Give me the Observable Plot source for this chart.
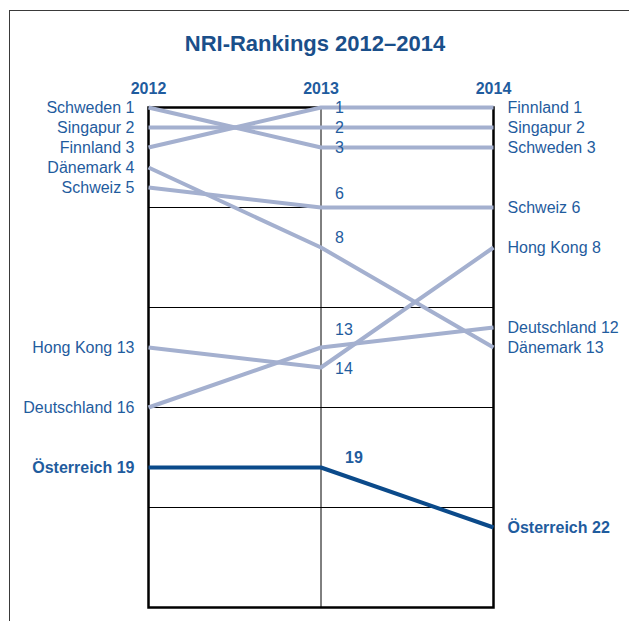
<!DOCTYPE html>
<html>
<head>
<meta charset="utf-8">
<script src="https://cdn.jsdelivr.net/npm/d3@7"></script>
<script src="https://cdn.jsdelivr.net/npm/@observablehq/plot@0.6"></script>
<style>
  html, body { margin: 0; padding: 0; background: #fff; overflow: hidden; }
  #wrap { position: relative; width: 629px; height: 621px; }
  #outer { position: absolute; left: 9px; top: 10px; width: 640px; height: 640px; border: 1.5px solid #3a3a3a; pointer-events: none; }
  svg { font-family: "Liberation Sans", Arial, sans-serif; }
</style>
</head>
<body>
<div id="wrap"><div id="outer"></div></div>
<script>
const title = "NRI-Rankings 2012–2014";
const years = [2012, 2013, 2014];
const countries = ["Schweden", "Singapur", "Finnland", "Dänemark", "Schweiz", "Hong Kong", "Deutschland", "Österreich"];
const rank2012 = [1, 2, 3, 4, 5, 13, 16, 19];
const rank2013 = [3, 2, 1, 8, 6, 14, 13, 19];
const rank2014 = [3, 2, 1, 13, 6, 8, 12, 22];
const gridRanks = [6, 11, 16, 21];
const highlight = "Österreich";

const ranksByYear = {2012: rank2012, 2013: rank2013, 2014: rank2014};
const rows = [];
countries.forEach((c, i) => years.forEach(y => rows.push({country: c, year: y, rank: ranksByYear[y][i]})));

// annotation nudges (px) for the middle-column numbers
const midDy = {"Schweden": 0, "Singapur": 0, "Finnland": 0, "Schweiz": -14, "Dänemark": -10, "Deutschland": -18, "Hong Kong": 1, "Österreich": -10};

const light = "#a4b0cf";
const dark = "#0b4a8a";
const textCol = "#1f5c9e";

const isHi = d => d.country === highlight;
const notHi = d => !isHi(d);
const r12 = rows.filter(d => d.year === 2012);
const r13 = rows.filter(d => d.year === 2013);
const r14 = rows.filter(d => d.year === 2014);
const lab = d => `${d.country} ${d.rank}`;

const plot = Plot.plot({
  width: 629,
  height: 621,
  marginLeft: 148,
  marginRight: 136,
  marginTop: 107,
  marginBottom: 14,
  x: {domain: [2012, 2014], axis: null},
  y: {domain: [1, 26], reverse: true, axis: null},
  style: {fontFamily: "'Liberation Sans', Arial, sans-serif", background: "transparent"},
  marks: [
    Plot.ruleY(gridRanks, {stroke: "#000", strokeWidth: 1}),
    Plot.ruleX([2013], {stroke: "#000", strokeWidth: 1}),
    Plot.frame({stroke: "#000", strokeWidth: 2.5}),
    Plot.line(rows.filter(notHi), {x: "year", y: "rank", z: "country", stroke: light, strokeWidth: 4, strokeLinecap: "butt"}),
    Plot.line(rows.filter(isHi), {x: "year", y: "rank", z: "country", stroke: dark, strokeWidth: 4, strokeLinecap: "butt"}),
    Plot.text(r12.filter(notHi), {x: "year", y: "rank", text: lab, textAnchor: "end", dx: -14, fontSize: 16, fill: textCol}),
    Plot.text(r12.filter(isHi), {x: "year", y: "rank", text: lab, textAnchor: "end", dx: -14, fontSize: 16, fontWeight: "bold", fill: textCol}),
    Plot.text(r14.filter(notHi), {x: "year", y: "rank", text: lab, textAnchor: "start", dx: 14, fontSize: 16, fill: textCol}),
    Plot.text(r14.filter(isHi), {x: "year", y: "rank", text: lab, textAnchor: "start", dx: 14, fontSize: 16, fontWeight: "bold", fill: textCol}),
    ...r13.map(d => Plot.text([d], {x: "year", y: "rank", text: e => `${e.rank}`, textAnchor: "start",
      dx: isHi(d) ? 24 : 14, dy: midDy[d.country], fontSize: 16, fontWeight: isHi(d) ? "bold" : "normal", fill: textCol})),
    Plot.text(years, {x: d => d, frameAnchor: "top", lineAnchor: "middle", dy: -19, text: d => `${d}`, fontSize: 16, fontWeight: "bold", fill: textCol}),
    Plot.text([title], {frameAnchor: "top", lineAnchor: "middle", dx: -6, dy: -64, text: d => d, fontSize: 22, fontWeight: "bold", fill: "#1a4f8a"})
  ]
});

document.getElementById("wrap").prepend(plot);
</script>
</body>
</html>
